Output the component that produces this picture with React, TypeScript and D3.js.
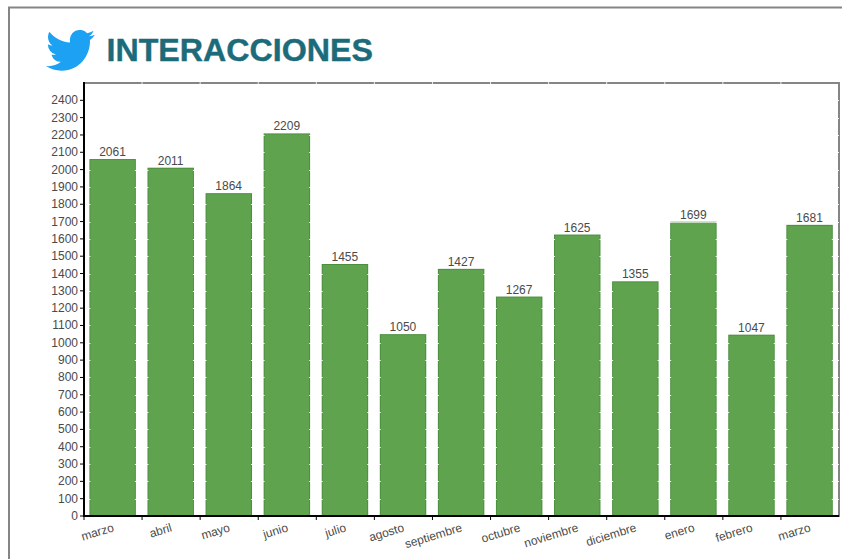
import React from "react";
import * as d3 from "d3";

const months = ["marzo", "abril", "mayo", "junio", "julio", "agosto", "septiembre", "octubre", "noviembre", "diciembre", "enero", "febrero", "marzo"];
const interactions = [2061, 2011, 1864, 2209, 1455, 1050, 1427, 1267, 1625, 1355, 1699, 1047, 1681];
const yTicks = d3.range(0, 2401, 100);
const title = "INTERACCIONES";
const birdPath = "M23.953 4.57a10 10 0 01-2.825.775 4.958 4.958 0 002.163-2.723c-.951.555-2.005.959-3.127 1.184a4.92 4.92 0 00-8.384 4.482C7.69 8.095 4.067 6.13 1.64 3.162a4.822 4.822 0 00-.666 2.475c0 1.71.87 3.213 2.188 4.096a4.904 4.904 0 01-2.228-.616v.06a4.923 4.923 0 003.946 4.827 4.996 4.996 0 01-2.212.085 4.936 4.936 0 004.604 3.417 9.867 9.867 0 01-6.102 2.105c-.39 0-.779-.023-1.17-.067a13.995 13.995 0 007.557 2.209c9.053 0 13.998-7.496 13.998-13.985 0-.21 0-.42-.015-.63A9.935 9.935 0 0024 4.59z";

const L = 84, R = 839, T = 83, B = 516;
const FONT = "'Liberation Sans', Arial, sans-serif";
const TXT = "#4a4a4a";

export default function App() {
  const idx = months.map((_, i) => i);
  const x = d3.scaleBand<number>().domain(idx).range([L, R]).paddingInner(0.2).paddingOuter(0.1);
  const y = d3.scaleLinear().domain([0, 2500]).range([B, T]);
  const step = x.step();
  const edges = d3.range(0, months.length + 1).map((i) => L + i * step);
  return (
    <svg width={842} height={559} style={{ position: "absolute", left: 0, top: 0, background: "#fff" }} fontFamily={FONT}>
      {/* page frame */}
      <path d="M9 559V7.5H842" fill="none" stroke="#858585" strokeWidth={2} />
      {/* logo + title */}
      <path d={birdPath} fill="#1DA1F2" transform="translate(46,25.2) scale(2.04,2.09)" />
      <text x={106.5} y={60.5} fontSize={32.2} fontWeight={700} fill="#1B6B7A" stroke="#1B6B7A" strokeWidth={0.4}>{title}</text>

      {/* plot border */}
      <rect x={L} y={T} width={R - L} height={B - T} fill="none" stroke="#858585" strokeWidth={2} />

      {/* bar outlines below the grid */}
      {interactions.map((v, i) => (
        <rect key={i} x={(x(i) as number) - 0.4} y={y(v)} width={x.bandwidth()} height={B - y(v)} fill="#4C8F40" />
      ))}
      {/* white grid */}
      {yTicks.map((t) => (
        <line key={t} x1={L} x2={R} y1={Math.round(y(t)) + 0.5} y2={Math.round(y(t)) + 0.5} stroke="#fff" strokeOpacity={0.85} />
      ))}
      {edges.slice(1, -1).map((e) => (
        <line key={e} x1={e} x2={e} y1={T - 1} y2={B} stroke="#fff" strokeOpacity={0.85} />
      ))}
      {/* bar bodies over the grid */}
      {interactions.map((v, i) => (
        <rect key={i} x={(x(i) as number) + 0.6} y={y(v) + 1} width={x.bandwidth() - 2} height={B - y(v) - 1} fill="#60A34F" />
      ))}
      {/* value labels */}
      {interactions.map((v, i) => (
        <text key={i} x={(x(i) as number) + x.bandwidth() / 2 - 0.5} y={y(v) - 3} textAnchor="middle" fontSize={12} fill={TXT}>{v}</text>
      ))}

      {/* y axis */}
      <line x1={L} x2={L} y1={T - 1} y2={B + 1} stroke="#000" strokeWidth={2} />
      {yTicks.map((t) => (
        <g key={t}>
          <line x1={L - 4} x2={L} y1={y(t)} y2={y(t)} stroke="#000" />
          <text x={L - 6} y={y(t) + 4} textAnchor="end" fontSize={12} fill={TXT}>{t}</text>
        </g>
      ))}

      {/* x axis */}
      <line x1={L - 1} x2={R} y1={B} y2={B} stroke="#000" strokeWidth={2} />
      {edges.slice(0, -1).map((e) => (
        <line key={e} x1={e} x2={e} y1={B} y2={B + 4} stroke="#000" />
      ))}
      {months.map((m, i) => {
        const cx = (x(i) as number) + x.bandwidth() / 2 + 1.5;
        return (
          <text key={i} transform={`translate(${cx},${B + 15}) rotate(-17)`} textAnchor="end" fontSize={12} fill={TXT}>{m}</text>
        );
      })}
    </svg>
  );
}
